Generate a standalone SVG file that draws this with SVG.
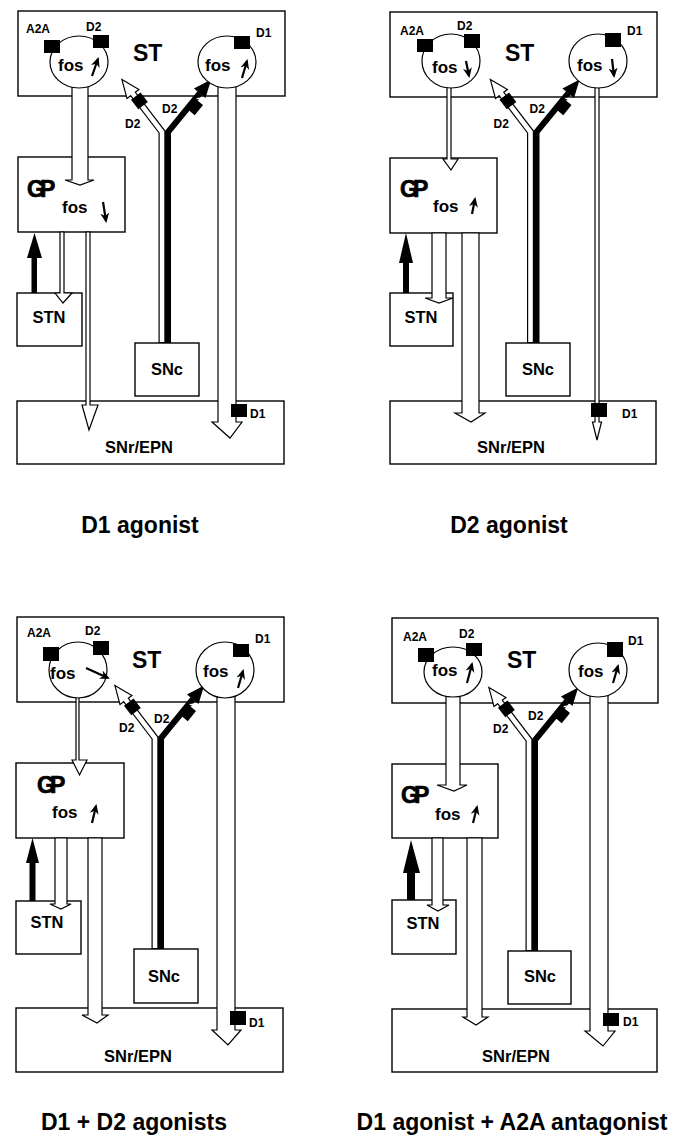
<svg xmlns="http://www.w3.org/2000/svg" width="688" height="1142" viewBox="0 0 688 1142">
<style>
.box{fill:#fff;stroke:#000;stroke-width:1.4}
.tract{fill:#fff;stroke:#000;stroke-width:1.2;stroke-linejoin:miter}
.solid{fill:#000;stroke:none}
.cell{fill:#fff;stroke:#000;stroke-width:1.2}
.rec{fill:#000}
.t{font-family:"Liberation Sans",Arial,Helvetica,sans-serif;font-weight:bold;fill:#000}
.s12{font-size:12px}
.fos{font-size:17px}
.st{font-size:23px}
.gp{font-size:23px;letter-spacing:-5px;stroke:#000;stroke-width:0.7}
.lb{font-size:16.5px;text-anchor:middle}
.title{font-size:23px;text-anchor:middle}
.farrow{stroke:#000;stroke-width:2.2;fill:none;marker-end:url(#fh)}
.hf{fill:none;stroke:#000;stroke-width:7;stroke-linejoin:miter}
.hfi{fill:none;stroke:#fff;stroke-width:4.6;stroke-linejoin:miter}
.bf{fill:none;stroke:#000;stroke-width:6;stroke-linejoin:miter}
.gap{stroke:#fff;stroke-width:1.2}
</style>
<defs>
<marker id="fh" viewBox="0 0 10 10" refX="8" refY="5" markerWidth="10" markerHeight="10" markerUnits="userSpaceOnUse" orient="auto">
<path d="M0,0.5 L10,5 L0,9.5 L3,5 Z" fill="#000"/>
</marker>
</defs>
<rect x="0" y="0" width="688" height="1142" fill="#fff"/>

<!-- ================= PANEL 1 : D1 agonist ================= -->
<g id="panel1">
<g id="p1-st"><rect class="box" x="18" y="11" width="267" height="85"/><text class="t st" x="133" y="61">ST</text></g>
<g id="p1-gp"><rect class="box" x="18" y="157" width="107" height="75"/><text class="t gp" x="27" y="197">GP</text><text class="t fos" x="62" y="213">fos</text><path class="farrow" d="M103,202 L106,221"/></g>
<g id="p1-stn"><rect class="box" x="17" y="293" width="65" height="53"/><text class="t lb" x="49" y="323">STN</text></g>
<g id="p1-snc"><rect class="box" x="135" y="343" width="64" height="53"/><text class="t lb" x="167" y="375">SNc</text></g>
<g id="p1-snr"><rect class="box" x="17" y="401" width="267" height="63"/><text class="t lb" x="139" y="453">SNr/EPN</text></g>
<g id="p1-connectors">
<polygon class="tract" points="72,62 72,180 65,180 80,185 94,180 88,180 88,62"/>
<polygon class="tract" points="60,232 60,293 55,293 63,303 72,293 64,293 64,232"/>
<polygon class="tract" points="86,232 86,405 82,405 89,430 98,405 90,405 90,232"/>
<path class="solid" d="M31.5,293 L31.5,258 L27,258 L34.5,233 L42,258 L37,258 L37,293 Z"/>
<polygon class="tract" points="218,62 218,422 212,422 230,438 242,422 236,422 236,62"/>
<g transform="translate(0,0)">
<path class="hf" d="M162,343 L162,132 L133,94"/>
<g transform="translate(162,132) rotate(-127.4)"><polygon class="tract" points="47.8,-7.5 66,0 47.8,7.5"/></g>
<path class="hfi" d="M162,342 L162,132 L131.8,92.4"/>
<path class="bf" d="M168,343 L168,132 L200,93"/>
<g transform="translate(168,132) rotate(-50.6)"><polygon class="solid" points="50,-7.5 68,0 50,7.5"/><rect class="rec" x="30" y="-2" width="13" height="12"/><line class="gap" x1="44" y1="1" x2="47" y2="4"/></g>
<g transform="translate(162,132) rotate(-127.4)"><rect class="rec" x="32.5" y="-5" width="12" height="12"/></g>
<text class="t s12" x="125" y="128">D2</text><text class="t s12" x="162" y="113">D2</text>
</g>
</g>
<g id="p1-d2cell"><ellipse class="cell" cx="79" cy="62" rx="29" ry="26"/><rect class="rec" x="44" y="40" width="16" height="13"/><rect class="rec" x="93" y="35" width="16" height="13"/><text class="t s12" x="26" y="33">A2A</text><text class="t s12" x="86" y="31">D2</text><text class="t fos" x="58" y="71">fos</text><path class="farrow" d="M92,76 L98,59"/></g>
<g id="p1-d1cell"><ellipse class="cell" cx="227" cy="62" rx="29" ry="26"/><rect class="rec" x="234" y="36" width="16" height="13"/><text class="t s12" x="256" y="37">D1</text><text class="t fos" x="205" y="71">fos</text><path class="farrow" d="M242,78 L247,61"/></g>
<g id="p1-snr-d1"><rect class="rec" x="231" y="404" width="16" height="13"/><text class="t s12" x="250" y="418">D1</text></g>
</g>

<!-- ================= PANEL 2 : D2 agonist ================= -->
<g id="panel2" transform="translate(372,1)">
<g id="p2-st"><rect class="box" x="18" y="11" width="267" height="85"/><text class="t st" x="133" y="60">ST</text></g>
<g id="p2-gp"><rect class="box" x="18" y="157" width="107" height="75"/><text class="t gp" x="28" y="196">GP</text><text class="t fos" x="61" y="211">fos</text><path class="farrow" d="M100,213 L103,198"/></g>
<g id="p2-stn"><rect class="box" x="18" y="292" width="63" height="53"/><text class="t lb" x="49" y="322">STN</text></g>
<g id="p2-snc"><rect class="box" x="134" y="342" width="64" height="53"/><text class="t lb" x="166" y="374">SNc</text></g>
<g id="p2-snr"><rect class="box" x="18" y="400" width="266" height="63"/><text class="t lb" x="139" y="452">SNr/EPN</text></g>
<g id="p2-connectors">
<polygon class="tract" points="75,60 75,158 71,158 79,169 86,158 79,158 79,60"/>
<polygon class="tract" points="60,232 60,297 53,297 67,302 81,297 74,297 74,232"/>
<polygon class="tract" points="90,232 90,412 83,412 99,421 113,412 107,412 107,232"/>
<path class="solid" d="M31,292 L31,262 L27,262 L34,232 L41,262 L37,262 L37,292 Z"/>
<polygon class="tract" points="223,60 223,421 220.5,421 225,439 229.5,421 227,421 227,60"/>
<g transform="translate(-3.5,-1)">
<path class="hf" d="M162,343 L162,132 L133,94"/>
<g transform="translate(162,132) rotate(-127.4)"><polygon class="tract" points="47.8,-7.5 66,0 47.8,7.5"/></g>
<path class="hfi" d="M162,342 L162,132 L131.8,92.4"/>
<path class="bf" d="M168,343 L168,132 L200,93"/>
<g transform="translate(168,132) rotate(-50.6)"><polygon class="solid" points="50,-7.5 68,0 50,7.5"/><rect class="rec" x="30" y="-2" width="13" height="12"/><line class="gap" x1="44" y1="1" x2="47" y2="4"/></g>
<g transform="translate(162,132) rotate(-127.4)"><rect class="rec" x="32.5" y="-5" width="12" height="12"/></g>
<text class="t s12" x="125" y="128">D2</text><text class="t s12" x="161" y="113">D2</text>
</g>
</g>
<g id="p2-d2cell"><ellipse class="cell" cx="79" cy="60" rx="29" ry="27"/><rect class="rec" x="45" y="38" width="16" height="13"/><rect class="rec" x="92" y="33" width="16" height="14"/><text class="t s12" x="28" y="34">A2A</text><text class="t s12" x="85" y="29">D2</text><text class="t fos" x="60" y="72">fos</text><path class="farrow" d="M94,60 L97,75"/></g>
<g id="p2-d1cell"><ellipse class="cell" cx="226" cy="60" rx="29" ry="27"/><rect class="rec" x="233" y="32" width="16" height="14"/><text class="t s12" x="255" y="34">D1</text><text class="t fos" x="205" y="70">fos</text><path class="farrow" d="M240,58 L242,75"/></g>
<g id="p2-snr-d1"><rect class="rec" x="219" y="402" width="16" height="14"/><text class="t s12" x="250" y="417">D1</text></g>
</g>

<!-- ================= PANEL 3 : D1 + D2 agonists ================= -->
<g id="panel3" transform="translate(-1,606)">
<g id="p3-st"><rect class="box" x="18" y="11" width="267" height="85"/><text class="t st" x="133" y="62">ST</text></g>
<g id="p3-gp"><rect class="box" x="17" y="157" width="108" height="75"/><text class="t gp" x="38" y="187">GP</text><text class="t fos" x="53" y="212">fos</text><path class="farrow" d="M93,217 L97,200"/></g>
<g id="p3-stn"><rect class="box" x="17" y="295" width="65" height="53"/><text class="t lb" x="48" y="322">STN</text></g>
<g id="p3-snc"><rect class="box" x="135" y="343" width="64" height="54"/><text class="t lb" x="165" y="376">SNc</text></g>
<g id="p3-snr"><rect class="box" x="17" y="402" width="267" height="64"/><text class="t lb" x="139" y="456">SNr/EPN</text></g>
<g id="p3-connectors">
<polygon class="tract" points="77,64 77,154 73,154 80.5,169 88,154 80,154 80,64"/>
<polygon class="tract" points="56,232 56,298 51,298 62,303 72,298 68,298 68,232"/>
<polygon class="tract" points="89,232 89,409 83,409 98,417 109,409 103,409 103,232"/>
<path class="solid" d="M30.5,295 L30.5,257 L27,257 L33.5,232 L40,257 L36.5,257 L36.5,295 Z"/>
<polygon class="tract" points="218,64 218,424 213,424 229,439 242,424 236,424 236,64"/>
<g transform="translate(-6,0)">
<path class="hf" d="M162,343 L162,132 L133,94"/>
<g transform="translate(162,132) rotate(-127.4)"><polygon class="tract" points="47.8,-7.5 66,0 47.8,7.5"/></g>
<path class="hfi" d="M162,342 L162,132 L131.8,92.4"/>
<path class="bf" d="M168,343 L168,132 L200,93"/>
<g transform="translate(168,132) rotate(-50.6)"><polygon class="solid" points="50,-7.5 68,0 50,7.5"/><rect class="rec" x="30" y="-2" width="13" height="12"/><line class="gap" x1="44" y1="1" x2="47" y2="4"/></g>
<g transform="translate(162,132) rotate(-127.4)"><rect class="rec" x="32.5" y="-5" width="12" height="12"/></g>
<text class="t s12" x="126" y="126">D2</text><text class="t s12" x="161" y="117">D2</text>
</g>
</g>
<g id="p3-d2cell"><ellipse class="cell" cx="79" cy="64" rx="29" ry="28"/><rect class="rec" x="44" y="41" width="16" height="14"/><rect class="rec" x="94" y="35" width="16" height="14"/><text class="t s12" x="28" y="31">A2A</text><text class="t s12" x="86" y="29">D2</text><text class="t fos" x="51" y="73">fos</text><path class="farrow" d="M87,62 L109,72"/></g>
<g id="p3-d1cell"><ellipse class="cell" cx="226" cy="64" rx="29" ry="28"/><rect class="rec" x="234" y="38" width="16" height="13"/><text class="t s12" x="256" y="37">D1</text><text class="t fos" x="204" y="71">fos</text><path class="farrow" d="M239,82 L244,65"/></g>
<g id="p3-snr-d1"><rect class="rec" x="231" y="405" width="16" height="14"/><text class="t s12" x="250" y="421">D1</text></g>
</g>

<!-- ================= PANEL 4 : D1 agonist + A2A antagonist ================= -->
<g id="panel4" transform="translate(374,607)">
<g id="p4-st"><rect class="box" x="18" y="11" width="266" height="85"/><text class="t st" x="133" y="61">ST</text></g>
<g id="p4-gp"><rect class="box" x="18" y="157" width="106" height="74"/><text class="t gp" x="27" y="196">GP</text><text class="t fos" x="61" y="213">fos</text><path class="farrow" d="M99,216 L103,200"/></g>
<g id="p4-stn"><rect class="box" x="18" y="293" width="64" height="54"/><text class="t lb" x="49" y="322">STN</text></g>
<g id="p4-snc"><rect class="box" x="134" y="344" width="63" height="53"/><text class="t lb" x="166" y="375">SNc</text></g>
<g id="p4-snr"><rect class="box" x="18" y="402" width="265" height="63"/><text class="t lb" x="142" y="455">SNr/EPN</text></g>
<g id="p4-connectors">
<polygon class="tract" points="72,65 72,178 63,178 80,184 93,178 86,178 86,65"/>
<polygon class="tract" points="58,231 58,298 53,298 64,304 75,298 69,298 69,231"/>
<polygon class="tract" points="93,231 93,410 89,410 102,418 114,410 108,410 108,231"/>
<path class="solid" d="M33,293 L33,266 L29,266 L37,233 L46,266 L41,266 L41,293 Z"/>
<polygon class="tract" points="216,63 216,424 211,424 229,439 241,424 234,424 234,63"/>
<g transform="translate(-7,1)">
<path class="hf" d="M162,343 L162,132 L133,94"/>
<g transform="translate(162,132) rotate(-127.4)"><polygon class="tract" points="47.8,-7.5 66,0 47.8,7.5"/></g>
<path class="hfi" d="M162,342 L162,132 L131.8,92.4"/>
<path class="bf" d="M168,343 L168,132 L200,93"/>
<g transform="translate(168,132) rotate(-50.6)"><polygon class="solid" points="50,-7.5 68,0 50,7.5"/><rect class="rec" x="30" y="-2" width="13" height="12"/><line class="gap" x1="44" y1="1" x2="47" y2="4"/></g>
<g transform="translate(162,132) rotate(-127.4)"><rect class="rec" x="32.5" y="-5" width="12" height="12"/></g>
<text class="t s12" x="126" y="125">D2</text><text class="t s12" x="161" y="112">D2</text>
</g>
</g>
<g id="p4-d2cell"><ellipse class="cell" cx="79" cy="65" rx="29" ry="25"/><rect class="rec" x="44" y="41" width="16" height="14"/><rect class="rec" x="92" y="36" width="16" height="13"/><text class="t s12" x="29" y="34">A2A</text><text class="t s12" x="85" y="31">D2</text><text class="t fos" x="58" y="69">fos</text><path class="farrow" d="M93,76 L98,57"/></g>
<g id="p4-d1cell"><ellipse class="cell" cx="224" cy="63" rx="29" ry="27"/><rect class="rec" x="233" y="35" width="16" height="15"/><text class="t s12" x="254" y="38">D1</text><text class="t fos" x="204" y="70">fos</text><path class="farrow" d="M239,76 L244,59"/></g>
<g id="p4-snr-d1"><rect class="rec" x="229" y="406" width="16" height="13"/><text class="t s12" x="249" y="419">D1</text></g>
</g>

<g id="titles">
<text class="t title" x="140" y="533">D1 agonist</text>
<text class="t title" x="509" y="533">D2 agonist</text>
<text class="t title" x="134" y="1130">D1 + D2 agonists</text>
<text class="t title" x="512" y="1130">D1 agonist + A2A antagonist</text>
</g>
</svg>
